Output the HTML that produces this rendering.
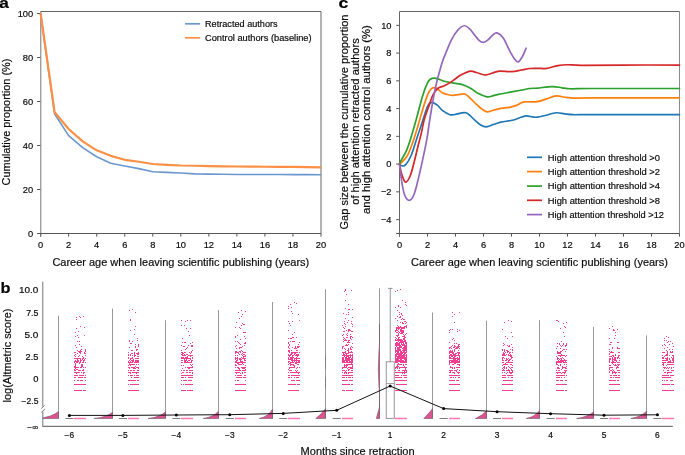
<!DOCTYPE html><html><head><meta charset="utf-8"><title>Figure</title><style>html,body{margin:0;padding:0;background:#fff;}svg{display:block;font-family:"Liberation Sans", sans-serif;will-change:transform;}text{stroke:#0a0a0a;stroke-width:0.18px;}</style></head><body>
<svg width="685" height="455" viewBox="0 0 685 455">
<text x="-0.8" y="8" font-size="15" text-anchor="start" fill="#000" font-weight="bold" textLength="9.6" lengthAdjust="spacingAndGlyphs">a</text>
<text x="338.6" y="8.2" font-size="15" text-anchor="start" fill="#000" font-weight="bold" textLength="9.8" lengthAdjust="spacingAndGlyphs">c</text>
<text x="0.5" y="292.7" font-size="15" text-anchor="start" fill="#000" font-weight="bold" textLength="10" lengthAdjust="spacingAndGlyphs">b</text>
<line x1="37" y1="233.5" x2="40.5" y2="233.5" stroke="#555" stroke-width="1"/>
<text x="33.2" y="236.8" font-size="9.3" text-anchor="end" fill="#0a0a0a">0</text>
<line x1="37" y1="189.5" x2="40.5" y2="189.5" stroke="#555" stroke-width="1"/>
<text x="33.2" y="192.8" font-size="9.3" text-anchor="end" fill="#0a0a0a">20</text>
<line x1="37" y1="145.5" x2="40.5" y2="145.5" stroke="#555" stroke-width="1"/>
<text x="33.2" y="148.8" font-size="9.3" text-anchor="end" fill="#0a0a0a">40</text>
<line x1="37" y1="101.5" x2="40.5" y2="101.5" stroke="#555" stroke-width="1"/>
<text x="33.2" y="104.8" font-size="9.3" text-anchor="end" fill="#0a0a0a">60</text>
<line x1="37" y1="57.5" x2="40.5" y2="57.5" stroke="#555" stroke-width="1"/>
<text x="33.2" y="60.8" font-size="9.3" text-anchor="end" fill="#0a0a0a">80</text>
<line x1="37" y1="13.5" x2="40.5" y2="13.5" stroke="#555" stroke-width="1"/>
<text x="33.2" y="16.8" font-size="9.3" text-anchor="end" fill="#0a0a0a">100</text>
<line x1="40.6" y1="233.5" x2="40.6" y2="236.6" stroke="#555" stroke-width="1"/>
<text x="40.6" y="248.2" font-size="9.3" text-anchor="middle" fill="#0a0a0a">0</text>
<line x1="68.64" y1="233.5" x2="68.64" y2="236.6" stroke="#555" stroke-width="1"/>
<text x="68.64" y="248.2" font-size="9.3" text-anchor="middle" fill="#0a0a0a">2</text>
<line x1="96.68" y1="233.5" x2="96.68" y2="236.6" stroke="#555" stroke-width="1"/>
<text x="96.68" y="248.2" font-size="9.3" text-anchor="middle" fill="#0a0a0a">4</text>
<line x1="124.72" y1="233.5" x2="124.72" y2="236.6" stroke="#555" stroke-width="1"/>
<text x="124.72" y="248.2" font-size="9.3" text-anchor="middle" fill="#0a0a0a">6</text>
<line x1="152.76" y1="233.5" x2="152.76" y2="236.6" stroke="#555" stroke-width="1"/>
<text x="152.76" y="248.2" font-size="9.3" text-anchor="middle" fill="#0a0a0a">8</text>
<line x1="180.8" y1="233.5" x2="180.8" y2="236.6" stroke="#555" stroke-width="1"/>
<text x="180.8" y="248.2" font-size="9.3" text-anchor="middle" fill="#0a0a0a">10</text>
<line x1="208.84" y1="233.5" x2="208.84" y2="236.6" stroke="#555" stroke-width="1"/>
<text x="208.84" y="248.2" font-size="9.3" text-anchor="middle" fill="#0a0a0a">12</text>
<line x1="236.88" y1="233.5" x2="236.88" y2="236.6" stroke="#555" stroke-width="1"/>
<text x="236.88" y="248.2" font-size="9.3" text-anchor="middle" fill="#0a0a0a">14</text>
<line x1="264.92" y1="233.5" x2="264.92" y2="236.6" stroke="#555" stroke-width="1"/>
<text x="264.92" y="248.2" font-size="9.3" text-anchor="middle" fill="#0a0a0a">16</text>
<line x1="292.96" y1="233.5" x2="292.96" y2="236.6" stroke="#555" stroke-width="1"/>
<text x="292.96" y="248.2" font-size="9.3" text-anchor="middle" fill="#0a0a0a">18</text>
<line x1="321" y1="233.5" x2="321" y2="236.6" stroke="#555" stroke-width="1"/>
<text x="321" y="248.2" font-size="9.3" text-anchor="middle" fill="#0a0a0a">20</text>
<line x1="40.5" y1="11.5" x2="321" y2="11.5" stroke="#666" stroke-width="1"/>
<line x1="321" y1="11.5" x2="321" y2="233.5" stroke="#666" stroke-width="1"/>
<line x1="40.8" y1="11.5" x2="40.8" y2="236.6" stroke="#777" stroke-width="1"/>
<line x1="37" y1="233.5" x2="321" y2="233.5" stroke="#555" stroke-width="1"/>
<polyline points="40.6,13.5 54.62,114.04 68.64,135.6 82.66,147.7 96.68,156.72 110.7,163.32 124.72,165.96 138.74,168.6 152.76,171.68 166.78,172.34 180.8,173 194.82,173.88 208.84,174.1 222.86,174.32 236.88,174.43 250.9,174.54 264.92,174.54 278.94,174.54 292.96,174.65 306.98,174.65 321,174.76" fill="none" stroke="#6b97cf" stroke-width="1.6" stroke-linejoin="round"/>
<polyline points="40.6,13.5 54.62,112.28 68.64,129 82.66,141.32 96.68,150.34 110.7,155.84 124.72,159.8 138.74,161.78 152.76,163.98 166.78,164.86 180.8,165.52 194.82,165.74 208.84,166.18 222.86,166.4 236.88,166.51 250.9,166.62 264.92,166.73 278.94,166.84 292.96,166.95 306.98,167.06 321,167.28" fill="none" stroke="#fa8f45" stroke-width="2.2" stroke-linejoin="round"/>
<line x1="185.1" y1="23.8" x2="200.1" y2="23.8" stroke="#6b97cf" stroke-width="1.7"/>
<line x1="185.1" y1="37.8" x2="200.1" y2="37.8" stroke="#fa8f45" stroke-width="1.7"/>
<text x="205" y="27.2" font-size="8.6" text-anchor="start" fill="#0a0a0a" textLength="72.6" lengthAdjust="spacingAndGlyphs">Retracted authors</text>
<text x="205" y="41.2" font-size="8.6" text-anchor="start" fill="#0a0a0a" textLength="106.6" lengthAdjust="spacingAndGlyphs">Control authors (baseline)</text>
<text x="180.8" y="265.8" font-size="11" text-anchor="middle" fill="#0a0a0a" textLength="256.8" lengthAdjust="spacingAndGlyphs">Career age when leaving scientific publishing (years)</text>
<text transform="translate(9.6,122) rotate(-90)" x="0" y="0" font-size="11" text-anchor="middle" fill="#0a0a0a" textLength="126.8" lengthAdjust="spacingAndGlyphs">Cumulative proportion (%)</text>
<line x1="396.2" y1="219.6" x2="399.5" y2="219.6" stroke="#555" stroke-width="1"/>
<text x="391.5" y="222.9" font-size="9.3" text-anchor="end" fill="#0a0a0a">−4</text>
<line x1="396.2" y1="191.85" x2="399.5" y2="191.85" stroke="#555" stroke-width="1"/>
<text x="391.5" y="195.15" font-size="9.3" text-anchor="end" fill="#0a0a0a">−2</text>
<line x1="396.2" y1="164.1" x2="399.5" y2="164.1" stroke="#555" stroke-width="1"/>
<text x="391.5" y="167.4" font-size="9.3" text-anchor="end" fill="#0a0a0a">0</text>
<line x1="396.2" y1="136.35" x2="399.5" y2="136.35" stroke="#555" stroke-width="1"/>
<text x="391.5" y="139.65" font-size="9.3" text-anchor="end" fill="#0a0a0a">2</text>
<line x1="396.2" y1="108.6" x2="399.5" y2="108.6" stroke="#555" stroke-width="1"/>
<text x="391.5" y="111.9" font-size="9.3" text-anchor="end" fill="#0a0a0a">4</text>
<line x1="396.2" y1="80.85" x2="399.5" y2="80.85" stroke="#555" stroke-width="1"/>
<text x="391.5" y="84.15" font-size="9.3" text-anchor="end" fill="#0a0a0a">6</text>
<line x1="396.2" y1="53.1" x2="399.5" y2="53.1" stroke="#555" stroke-width="1"/>
<text x="391.5" y="56.4" font-size="9.3" text-anchor="end" fill="#0a0a0a">8</text>
<line x1="396.2" y1="25.35" x2="399.5" y2="25.35" stroke="#555" stroke-width="1"/>
<text x="391.5" y="28.65" font-size="9.3" text-anchor="end" fill="#0a0a0a">10</text>
<line x1="399.5" y1="233.5" x2="399.5" y2="236.6" stroke="#555" stroke-width="1"/>
<text x="399.5" y="248.2" font-size="9.3" text-anchor="middle" fill="#0a0a0a">0</text>
<line x1="427.5" y1="233.5" x2="427.5" y2="236.6" stroke="#555" stroke-width="1"/>
<text x="427.5" y="248.2" font-size="9.3" text-anchor="middle" fill="#0a0a0a">2</text>
<line x1="455.5" y1="233.5" x2="455.5" y2="236.6" stroke="#555" stroke-width="1"/>
<text x="455.5" y="248.2" font-size="9.3" text-anchor="middle" fill="#0a0a0a">4</text>
<line x1="483.5" y1="233.5" x2="483.5" y2="236.6" stroke="#555" stroke-width="1"/>
<text x="483.5" y="248.2" font-size="9.3" text-anchor="middle" fill="#0a0a0a">6</text>
<line x1="511.5" y1="233.5" x2="511.5" y2="236.6" stroke="#555" stroke-width="1"/>
<text x="511.5" y="248.2" font-size="9.3" text-anchor="middle" fill="#0a0a0a">8</text>
<line x1="539.5" y1="233.5" x2="539.5" y2="236.6" stroke="#555" stroke-width="1"/>
<text x="539.5" y="248.2" font-size="9.3" text-anchor="middle" fill="#0a0a0a">10</text>
<line x1="567.5" y1="233.5" x2="567.5" y2="236.6" stroke="#555" stroke-width="1"/>
<text x="567.5" y="248.2" font-size="9.3" text-anchor="middle" fill="#0a0a0a">12</text>
<line x1="595.5" y1="233.5" x2="595.5" y2="236.6" stroke="#555" stroke-width="1"/>
<text x="595.5" y="248.2" font-size="9.3" text-anchor="middle" fill="#0a0a0a">14</text>
<line x1="623.5" y1="233.5" x2="623.5" y2="236.6" stroke="#555" stroke-width="1"/>
<text x="623.5" y="248.2" font-size="9.3" text-anchor="middle" fill="#0a0a0a">16</text>
<line x1="651.5" y1="233.5" x2="651.5" y2="236.6" stroke="#555" stroke-width="1"/>
<text x="651.5" y="248.2" font-size="9.3" text-anchor="middle" fill="#0a0a0a">18</text>
<line x1="679.5" y1="233.5" x2="679.5" y2="236.6" stroke="#555" stroke-width="1"/>
<text x="679.5" y="248.2" font-size="9.3" text-anchor="middle" fill="#0a0a0a">20</text>
<line x1="399.5" y1="11.5" x2="679.5" y2="11.5" stroke="#666" stroke-width="1"/>
<line x1="679.5" y1="11.5" x2="679.5" y2="233.5" stroke="#8a8a8a" stroke-width="1"/>
<line x1="399.5" y1="11.5" x2="399.5" y2="236.6" stroke="#666" stroke-width="1"/>
<line x1="396.2" y1="233.5" x2="679.5" y2="233.5" stroke="#555" stroke-width="1"/>
<g fill="none" stroke-width="1.7" stroke-linecap="round" stroke-linejoin="round">
<path d="M399.5 164.1 C399.87 164.38 400.74 165.63 401.74 165.76 C402.74 165.9 403.96 166.64 405.52 164.93 C407.08 163.22 409.25 159.87 411.12 155.5 C412.99 151.13 414.92 144.1 416.72 138.71 C418.52 133.32 420.1 128.53 421.9 123.17 C423.7 117.8 425.87 109.99 427.5 106.52 C429.13 103.05 430.07 102.59 431.7 102.36 C433.33 102.12 435.53 103.79 437.3 105.13 C439.07 106.47 440.24 108.81 442.34 110.4 C444.44 112 447.71 114.03 449.9 114.7 C452.09 115.38 452.84 114.75 455.5 114.43 C458.16 114.1 462.69 111.86 465.86 112.76 C469.03 113.66 472.07 117.8 474.54 119.84 C477.01 121.87 478.74 123.82 480.7 124.97 C482.66 126.13 484.2 126.85 486.3 126.78 C488.4 126.71 490.87 125.34 493.3 124.56 C495.73 123.77 497.9 122.73 500.86 122.06 C503.82 121.39 508.14 121.16 511.08 120.53 C514.02 119.91 516.07 119.08 518.5 118.31 C520.93 117.55 523.31 116.18 525.64 115.95 C527.97 115.72 530.54 116.72 532.5 116.92 C534.46 117.13 535.3 117.43 537.4 117.2 C539.5 116.97 541.97 116.28 545.1 115.54 C548.23 114.8 552.89 113.04 556.16 112.76 C559.43 112.48 561.88 113.55 564.7 113.87 C567.52 114.2 569.13 114.59 573.1 114.7 C577.07 114.82 580.1 114.59 588.5 114.57 C596.9 114.54 608.33 114.57 623.5 114.57 C638.67 114.57 670.17 114.57 679.5 114.57" stroke="#1f77b4"/>
<path d="M399.5 164.1 C399.73 163.91 399.59 164.38 400.9 162.99 C402.21 161.6 405.33 159.29 407.34 155.78 C409.35 152.26 411.07 147.22 412.94 141.9 C414.81 136.58 416.7 129.99 418.54 123.86 C420.38 117.73 422.39 110.22 424 105.13 C425.61 100.04 426.92 96.11 428.2 93.34 C429.48 90.56 430.63 89.43 431.7 88.48 C432.77 87.53 433.47 87.42 434.64 87.65 C435.81 87.88 437.42 89.04 438.7 89.87 C439.98 90.7 440.71 91.83 442.34 92.64 C443.97 93.45 446.7 94.29 448.5 94.72 C450.3 95.16 451.25 95.33 453.12 95.28 C454.99 95.23 457.65 94.63 459.7 94.45 C461.75 94.26 463.57 93.43 465.44 94.17 C467.31 94.91 469.1 97.22 470.9 98.89 C472.7 100.55 474.35 102.43 476.22 104.16 C478.09 105.89 480.3 108.02 482.1 109.29 C483.9 110.57 485.13 111.63 487 111.79 C488.87 111.95 490.99 110.82 493.3 110.26 C495.61 109.71 498.15 108.95 500.86 108.46 C503.57 107.98 506.83 107.91 509.54 107.35 C512.25 106.8 514.67 106.03 517.1 105.13 C519.53 104.23 520.72 102.52 524.1 101.94 C527.48 101.36 533.67 102.17 537.4 101.66 C541.13 101.15 543.37 99.86 546.5 98.89 C549.63 97.92 553.13 96.11 556.16 95.83 C559.19 95.56 561.64 96.83 564.7 97.22 C567.76 97.62 570.53 98.1 574.5 98.19 C578.47 98.29 580.33 97.85 588.5 97.78 C596.67 97.71 608.33 97.78 623.5 97.78 C638.67 97.78 670.17 97.78 679.5 97.78" stroke="#ff7f0e"/>
<path d="M399.5 164.1 C399.71 163.59 399.62 163.24 400.76 161.05 C401.9 158.85 404.63 154.92 406.36 150.92 C408.09 146.92 409.39 142.59 411.12 137.04 C412.85 131.49 414.78 124.56 416.72 117.62 C418.66 110.68 420.94 101.2 422.74 95.42 C424.54 89.64 426.24 85.64 427.5 82.93 C428.76 80.23 429.11 79.99 430.3 79.18 C431.49 78.38 433.01 77.98 434.64 78.07 C436.27 78.17 438.3 79.16 440.1 79.74 C441.9 80.32 443.32 81.01 445.42 81.54 C447.52 82.08 450.13 82.49 452.7 82.93 C455.27 83.37 457.93 83.32 460.82 84.18 C463.71 85.04 467.21 86.54 470.06 88.06 C472.91 89.59 475.1 91.88 477.9 93.34 C480.7 94.79 484.29 96.41 486.86 96.81 C489.43 97.2 491.25 96.14 493.3 95.7 C495.35 95.26 496.15 94.79 499.18 94.17 C502.21 93.55 507.81 92.62 511.5 91.95 C515.19 91.28 518.22 90.72 521.3 90.15 C524.38 89.57 527.3 88.83 529.98 88.48 C532.66 88.13 533.71 88.39 537.4 88.06 C541.09 87.74 548.02 86.58 552.1 86.54 C556.18 86.49 558.87 87.42 561.9 87.79 C564.93 88.16 565.87 88.64 570.3 88.76 C574.73 88.87 579.63 88.53 588.5 88.48 C597.37 88.43 608.33 88.48 623.5 88.48 C638.67 88.48 670.17 88.48 679.5 88.48" stroke="#2ca02c"/>
<path d="M399.5 164.1 C399.87 165.79 400.74 171.22 401.74 174.23 C402.74 177.23 404.12 181.84 405.52 182.14 C406.92 182.44 408.74 179.22 410.14 176.03 C411.54 172.84 412.68 167.66 413.92 162.99 C415.16 158.32 416.32 152.98 417.56 148 C418.8 143.03 420.24 137.83 421.34 133.16 C422.44 128.49 422.81 124.69 424.14 119.98 C425.47 115.26 427.83 109.06 429.32 104.85 C430.81 100.64 431.7 97.45 433.1 94.72 C434.5 92 435.85 89.98 437.72 88.48 C439.59 86.98 442.25 86.68 444.3 85.71 C446.35 84.73 448.17 83.81 450.04 82.65 C451.91 81.5 453.7 80.04 455.5 78.77 C457.3 77.5 458.39 76.29 460.82 75.02 C463.25 73.75 467.45 71.55 470.06 71.14 C472.67 70.72 474.07 71.88 476.5 72.53 C478.93 73.17 482.05 74.91 484.62 75.02 C487.19 75.14 489.47 73.87 491.9 73.22 C494.33 72.57 495.91 71.41 499.18 71.14 C502.45 70.86 507.81 71.74 511.5 71.55 C515.19 71.37 518.22 70.54 521.3 70.03 C524.38 69.52 527.18 68.78 529.98 68.5 C532.78 68.22 535.35 68.39 538.1 68.36 C540.85 68.34 543.23 68.82 546.5 68.36 C549.77 67.9 554.2 66.19 557.7 65.59 C561.2 64.99 563.53 64.8 567.5 64.75 C571.47 64.71 572.17 65.26 581.5 65.31 C590.83 65.36 607.17 65.08 623.5 65.03 C639.83 64.99 670.17 65.03 679.5 65.03" stroke="#d62728"/>
<path d="M399.5 164.1 C399.87 167.04 400.9 176.61 401.74 181.72 C402.58 186.83 403.3 191.64 404.54 194.76 C405.78 197.89 407.6 200.45 409.16 200.45 C410.72 200.45 412.36 198.53 413.92 194.76 C415.48 190.99 417 184.06 418.54 177.84 C420.08 171.62 421.76 163.96 423.16 157.44 C424.56 150.92 425.84 144.95 426.94 138.71 C428.04 132.47 428.41 128.07 429.74 119.98 C431.07 111.88 432.96 99.4 434.92 90.15 C436.88 80.9 439.56 70.95 441.5 64.48 C443.44 58 444.88 55.41 446.54 51.3 C448.2 47.18 449.53 43.34 451.44 39.78 C453.35 36.22 455.87 32.26 458.02 29.93 C460.17 27.59 462.41 25.97 464.32 25.77 C466.23 25.56 467.82 27.18 469.5 28.68 C471.18 30.18 472.77 32.8 474.4 34.78 C476.03 36.77 477.81 39.34 479.3 40.61 C480.79 41.88 481.96 42.49 483.36 42.42 C484.76 42.35 486.16 41.42 487.7 40.2 C489.24 38.97 491.06 36.29 492.6 35.06 C494.14 33.84 495.19 32.38 496.94 32.84 C498.69 33.3 500.91 34.69 503.1 37.84 C505.29 40.98 508.23 48.24 510.1 51.71 C511.97 55.18 512.99 56.94 514.3 58.65 C515.61 60.36 516.66 62.21 517.94 61.98 C519.22 61.75 520.65 59.55 522 57.26 C523.35 54.97 525.38 49.75 526.06 48.24" stroke="#9467bd"/>
</g>
<line x1="527" y1="157.3" x2="542" y2="157.3" stroke="#1f77b4" stroke-width="1.7"/>
<text x="547.8" y="160.5" font-size="8.6" text-anchor="start" fill="#0a0a0a" textLength="112.2" lengthAdjust="spacingAndGlyphs">High attention threshold &gt;0</text>
<line x1="527" y1="171.6" x2="542" y2="171.6" stroke="#ff7f0e" stroke-width="1.7"/>
<text x="547.8" y="174.8" font-size="8.6" text-anchor="start" fill="#0a0a0a" textLength="112.2" lengthAdjust="spacingAndGlyphs">High attention threshold &gt;2</text>
<line x1="527" y1="186.1" x2="542" y2="186.1" stroke="#2ca02c" stroke-width="1.7"/>
<text x="547.8" y="189.3" font-size="8.6" text-anchor="start" fill="#0a0a0a" textLength="112.2" lengthAdjust="spacingAndGlyphs">High attention threshold &gt;4</text>
<line x1="527" y1="200.3" x2="542" y2="200.3" stroke="#d62728" stroke-width="1.7"/>
<text x="547.8" y="203.5" font-size="8.6" text-anchor="start" fill="#0a0a0a" textLength="112.2" lengthAdjust="spacingAndGlyphs">High attention threshold &gt;8</text>
<line x1="527" y1="214.6" x2="542" y2="214.6" stroke="#9467bd" stroke-width="1.7"/>
<text x="547.8" y="217.8" font-size="8.6" text-anchor="start" fill="#0a0a0a" textLength="116.2" lengthAdjust="spacingAndGlyphs">High attention threshold &gt;12</text>
<text x="539.5" y="265.8" font-size="11" text-anchor="middle" fill="#0a0a0a" textLength="256.8" lengthAdjust="spacingAndGlyphs">Career age when leaving scientific publishing (years)</text>
<text transform="translate(348.3,122.0) rotate(-90)" x="0" y="0" font-size="11" text-anchor="middle" fill="#0a0a0a" textLength="215" lengthAdjust="spacingAndGlyphs">Gap size between the cumulative proportion</text>
<text transform="translate(359.2,121.5) rotate(-90)" x="0" y="0" font-size="11" text-anchor="middle" fill="#0a0a0a" textLength="166.6" lengthAdjust="spacingAndGlyphs">of high attention retracted authors</text>
<text transform="translate(369.8,119.6) rotate(-90)" x="0" y="0" font-size="11" text-anchor="middle" fill="#0a0a0a" textLength="189" lengthAdjust="spacingAndGlyphs">and high attention control authors (%)</text>
<text x="38.4" y="293.4" font-size="8.4" text-anchor="end" fill="#0a0a0a" textLength="19.4" lengthAdjust="spacingAndGlyphs">10.0</text>
<text x="38.4" y="315.5" font-size="8.4" text-anchor="end" fill="#0a0a0a" textLength="12.2" lengthAdjust="spacingAndGlyphs">7.5</text>
<text x="38.4" y="337.6" font-size="8.4" text-anchor="end" fill="#0a0a0a" textLength="13.9" lengthAdjust="spacingAndGlyphs">5.0</text>
<text x="38.4" y="359.7" font-size="8.4" text-anchor="end" fill="#0a0a0a" textLength="12.8" lengthAdjust="spacingAndGlyphs">2.5</text>
<text x="38.4" y="381.8" font-size="8.4" text-anchor="end" fill="#0a0a0a" textLength="5.2" lengthAdjust="spacingAndGlyphs">0</text>
<text x="38.4" y="403.9" font-size="8.4" text-anchor="end" fill="#0a0a0a" textLength="16.8" lengthAdjust="spacingAndGlyphs">−2.5</text>
<text x="38.2" y="430.2" font-size="8.4" text-anchor="end" fill="#0a0a0a">−∞</text>
<text transform="translate(10.8,355.5) rotate(-90)" x="0" y="0" font-size="11" text-anchor="middle" fill="#0a0a0a" textLength="93.8" lengthAdjust="spacingAndGlyphs">log(Altmetric score)</text>
<text x="357.6" y="454.9" font-size="11" text-anchor="middle" fill="#0a0a0a" textLength="114" lengthAdjust="spacingAndGlyphs">Months since retraction</text>
<text x="69.4" y="437.9" font-size="8.4" text-anchor="middle" fill="#0a0a0a">−6</text>
<text x="122.86" y="437.9" font-size="8.4" text-anchor="middle" fill="#0a0a0a">−5</text>
<text x="176.32" y="437.9" font-size="8.4" text-anchor="middle" fill="#0a0a0a">−4</text>
<text x="229.78" y="437.9" font-size="8.4" text-anchor="middle" fill="#0a0a0a">−3</text>
<text x="283.24" y="437.9" font-size="8.4" text-anchor="middle" fill="#0a0a0a">−2</text>
<text x="336.7" y="437.9" font-size="8.4" text-anchor="middle" fill="#0a0a0a">−1</text>
<text x="390.16" y="437.9" font-size="8.4" text-anchor="middle" fill="#0a0a0a">1</text>
<text x="443.62" y="437.9" font-size="8.4" text-anchor="middle" fill="#0a0a0a">2</text>
<text x="497.08" y="437.9" font-size="8.4" text-anchor="middle" fill="#0a0a0a">3</text>
<text x="550.54" y="437.9" font-size="8.4" text-anchor="middle" fill="#0a0a0a">4</text>
<text x="604" y="437.9" font-size="8.4" text-anchor="middle" fill="#0a0a0a">5</text>
<text x="657.46" y="437.9" font-size="8.4" text-anchor="middle" fill="#0a0a0a">6</text>
<g>
<line x1="58.5" y1="315.8" x2="58.5" y2="418.5" stroke="#9c989a" stroke-width="1"/>
<path d="M58.5 418.5 L58.5 411.5 Q52.2 417.1 37.5 418.5 Z" fill="#dc5292" stroke="#6e5560" stroke-width="0.6" stroke-linejoin="round"/>
<line x1="112.5" y1="308.6" x2="112.5" y2="418.5" stroke="#9c989a" stroke-width="1"/>
<path d="M112.5 418.5 L112.5 412.2 Q106.92 417.24 93.9 418.5 Z" fill="#dc5292" stroke="#6e5560" stroke-width="0.6" stroke-linejoin="round"/>
<line x1="165.5" y1="320.2" x2="165.5" y2="418.5" stroke="#9c989a" stroke-width="1"/>
<path d="M165.5 418.5 L165.5 411.8 Q160.28 417.16 148.1 418.5 Z" fill="#dc5292" stroke="#6e5560" stroke-width="0.6" stroke-linejoin="round"/>
<line x1="218.5" y1="310.1" x2="218.5" y2="418.5" stroke="#9c989a" stroke-width="1"/>
<path d="M218.5 418.5 L218.5 411.3 Q213.6 416.92 203.2 418.5 Z" fill="#dc5292" stroke="#6e5560" stroke-width="0.6" stroke-linejoin="round"/>
<line x1="272.5" y1="302" x2="272.5" y2="418.5" stroke="#9c989a" stroke-width="1"/>
<path d="M272.5 418.5 L272.5 409.2 Q268.54 416.45 259.3 418.5 Z" fill="#dc5292" stroke="#6e5560" stroke-width="0.6" stroke-linejoin="round"/>
<line x1="325.5" y1="289.2" x2="325.5" y2="418.5" stroke="#9c989a" stroke-width="1"/>
<path d="M325.5 418.5 L325.5 408.7 Q321.13 414.58 315.8 418.5 Z" fill="#dc5292" stroke="#6e5560" stroke-width="0.6" stroke-linejoin="round"/>
<line x1="379.5" y1="288.4" x2="379.5" y2="418.5" stroke="#9c989a" stroke-width="1"/>
<path d="M379.5 418.5 L379.5 406.9 Q377.9 412.7 376.3 418.5 Z" fill="#dc5292" stroke="#6e5560" stroke-width="0.6" stroke-linejoin="round"/>
<line x1="432.5" y1="312.5" x2="432.5" y2="418.5" stroke="#9c989a" stroke-width="1"/>
<path d="M432.5 418.5 L432.5 408.7 Q428.15 414.09 423.8 418.5 Z" fill="#dc5292" stroke="#6e5560" stroke-width="0.6" stroke-linejoin="round"/>
<line x1="486.5" y1="320.7" x2="486.5" y2="418.5" stroke="#9c989a" stroke-width="1"/>
<path d="M486.5 418.5 L486.5 410.9 Q481.84 415.76 475.4 418.5 Z" fill="#dc5292" stroke="#6e5560" stroke-width="0.6" stroke-linejoin="round"/>
<line x1="539.5" y1="320.2" x2="539.5" y2="418.5" stroke="#9c989a" stroke-width="1"/>
<path d="M539.5 418.5 L539.5 410.8 Q535.11 416.65 526.2 418.5 Z" fill="#dc5292" stroke="#6e5560" stroke-width="0.6" stroke-linejoin="round"/>
<line x1="593.5" y1="326.8" x2="593.5" y2="418.5" stroke="#9c989a" stroke-width="1"/>
<path d="M593.5 418.5 L593.5 411.9 Q587.96 416.78 576.7 418.5 Z" fill="#dc5292" stroke="#6e5560" stroke-width="0.6" stroke-linejoin="round"/>
<line x1="646.5" y1="335.4" x2="646.5" y2="418.5" stroke="#9c989a" stroke-width="1"/>
<path d="M646.5 418.5 L646.5 411.3 Q641.35 416.63 630.9 418.5 Z" fill="#dc5292" stroke="#6e5560" stroke-width="0.6" stroke-linejoin="round"/>
</g>
<rect x="30" y="405" width="12.5" height="16" fill="#fff"/>
<path d="M379.5 342 Q376.9 368 379.5 396 Z" fill="#e0559a" stroke="#7a5a68" stroke-width="0.5"/>
<line x1="379.5" y1="324" x2="379.5" y2="342" stroke="#7a6670" stroke-width="1"/>
<line x1="379.5" y1="396" x2="379.5" y2="407" stroke="#7a6670" stroke-width="1"/>
<line x1="325.5" y1="355.8" x2="325.5" y2="369" stroke="#8a7a84" stroke-width="1"/>
<line x1="325.5" y1="376.8" x2="325.5" y2="388.7" stroke="#8a7a84" stroke-width="1"/>
<line x1="65.4" y1="418.5" x2="73.4" y2="418.5" stroke="#7a7a7a" stroke-width="1"/>
<line x1="118.86" y1="418.5" x2="126.86" y2="418.5" stroke="#7a7a7a" stroke-width="1"/>
<line x1="172.32" y1="418.5" x2="180.32" y2="418.5" stroke="#7a7a7a" stroke-width="1"/>
<line x1="225.78" y1="418.5" x2="233.78" y2="418.5" stroke="#7a7a7a" stroke-width="1"/>
<line x1="279.24" y1="418.5" x2="287.24" y2="418.5" stroke="#7a7a7a" stroke-width="1"/>
<line x1="332.7" y1="418.5" x2="340.7" y2="418.5" stroke="#7a7a7a" stroke-width="1"/>
<line x1="439.62" y1="418.5" x2="447.62" y2="418.5" stroke="#7a7a7a" stroke-width="1"/>
<line x1="493.08" y1="418.5" x2="501.08" y2="418.5" stroke="#7a7a7a" stroke-width="1"/>
<line x1="546.54" y1="418.5" x2="554.54" y2="418.5" stroke="#7a7a7a" stroke-width="1"/>
<line x1="600" y1="418.5" x2="608" y2="418.5" stroke="#7a7a7a" stroke-width="1"/>
<line x1="653.46" y1="418.5" x2="661.46" y2="418.5" stroke="#7a7a7a" stroke-width="1"/>
<rect x="386.26" y="361.8" width="8" height="56.6" fill="#fff" stroke="#8a8a8a" stroke-width="0.9"/>
<line x1="386.26" y1="383.5" x2="394.26" y2="383.5" stroke="#999" stroke-width="0.9"/>
<line x1="390.26" y1="288.4" x2="390.26" y2="361.8" stroke="#8a8a8a" stroke-width="0.9"/>
<line x1="388.06" y1="288.4" x2="392.46" y2="288.4" stroke="#8a8a8a" stroke-width="0.9"/>
<path d="M83 316h1v1h-1zM76 317h1v1h-1zM76 319h1v1h-1zM80 326h1v1h-1zM84 327h1v1h-1zM76 328h1v1h-1zM78 331h1v1h-1zM75 332h1v1h-1zM77 335h1v1h-1zM84 335h1v1h-1zM75 336h1v1h-1zM78 337h1v1h-1zM77 341h1v1h-1zM79 341h1v1h-1zM79 344h1v1h-1zM75 345h1v1h-1zM81 346h1v1h-1zM76 347h1v1h-1zM81 349h1v1h-1zM85 349h1v1h-1zM77 350h1v1h-1zM80 350h1v1h-1zM85 350h1v1h-1zM78 351h4v1h-4zM85 351h1v1h-1zM74 352h2v1h-2zM79 352h2v1h-2zM84 352h1v1h-1zM77 353h1v1h-1zM80 353h1v1h-1zM84 353h2v1h-2zM75 354h1v1h-1zM74 355h1v1h-1zM79 355h1v1h-1zM85 355h1v1h-1zM75 356h1v1h-1zM78 356h1v1h-1zM82 356h1v1h-1zM83 357h1v1h-1zM74 358h7v1h-7zM82 358h2v1h-2zM85 358h1v1h-1zM77 359h1v1h-1zM80 359h1v1h-1zM82 359h1v1h-1zM84 359h1v1h-1zM75 360h1v1h-1zM77 360h2v1h-2zM80 360h2v1h-2zM83 360h2v1h-2zM74 361h5v1h-5zM80 361h1v1h-1zM83 361h1v1h-1zM74 362h1v1h-1zM76 362h2v1h-2zM79 362h2v1h-2zM82 362h2v1h-2zM85 362h1v1h-1zM75 363h1v1h-1zM79 363h1v1h-1zM75 364h1v1h-1zM81 364h2v1h-2zM75 365h1v1h-1zM81 365h2v1h-2zM74 366h2v1h-2zM81 366h2v1h-2zM74 367h5v1h-5zM80 367h2v1h-2zM83 367h1v1h-1zM85 367h1v1h-1zM75 368h1v1h-1zM74 369h1v1h-1zM76 369h2v1h-2zM83 369h1v1h-1zM74 370h2v1h-2zM78 370h3v1h-3zM82 370h2v1h-2zM74 372h6v1h-6zM81 372h1v1h-1zM83 372h2v1h-2zM76 373h1v1h-1zM83 373h1v1h-1zM74 375h4v1h-4zM79 375h5v1h-5zM85 375h1v1h-1zM74 377h2v1h-2zM78 377h5v1h-5zM84 377h2v1h-2zM74 380h1v1h-1zM77 380h2v1h-2zM80 380h3v1h-3zM85 380h1v1h-1zM74 384h12v1h-12zM74 390h8v1h-8zM83 390h3v1h-3zM80 317h1v1h-1zM79 316h1v1h-1zM135 312h1v1h-1zM130 319h1v1h-1zM130 320h1v1h-1zM135 326h1v1h-1zM134 329h1v1h-1zM130 330h1v1h-1zM134 334h1v1h-1zM137 338h1v1h-1zM129 340h1v1h-1zM137 340h1v1h-1zM129 341h1v1h-1zM132 341h1v1h-1zM130 343h2v1h-2zM135 344h1v1h-1zM138 344h1v1h-1zM138 345h1v1h-1zM135 346h1v1h-1zM138 346h1v1h-1zM129 347h1v1h-1zM135 347h1v1h-1zM136 349h2v1h-2zM131 350h2v1h-2zM136 350h1v1h-1zM128 352h1v1h-1zM134 352h1v1h-1zM138 352h1v1h-1zM131 353h2v1h-2zM134 353h1v1h-1zM136 353h3v1h-3zM128 354h1v1h-1zM130 354h1v1h-1zM134 354h1v1h-1zM137 354h2v1h-2zM128 355h1v1h-1zM130 355h1v1h-1zM132 355h1v1h-1zM134 355h2v1h-2zM134 356h1v1h-1zM137 356h2v1h-2zM128 357h1v1h-1zM132 357h1v1h-1zM128 358h1v1h-1zM130 358h3v1h-3zM135 358h4v1h-4zM130 359h1v1h-1zM133 359h1v1h-1zM129 360h1v1h-1zM131 360h3v1h-3zM135 360h4v1h-4zM128 361h1v1h-1zM130 361h1v1h-1zM132 361h2v1h-2zM135 361h4v1h-4zM128 362h5v1h-5zM134 362h5v1h-5zM129 363h1v1h-1zM129 364h6v1h-6zM136 364h1v1h-1zM138 364h1v1h-1zM128 365h1v1h-1zM130 365h1v1h-1zM135 366h1v1h-1zM128 367h2v1h-2zM131 367h4v1h-4zM136 367h3v1h-3zM129 368h1v1h-1zM133 368h3v1h-3zM138 368h1v1h-1zM128 370h1v1h-1zM130 370h2v1h-2zM133 370h2v1h-2zM137 370h2v1h-2zM128 372h3v1h-3zM132 372h7v1h-7zM130 373h1v1h-1zM136 373h1v1h-1zM128 375h1v1h-1zM130 375h3v1h-3zM134 375h1v1h-1zM136 375h3v1h-3zM131 377h1v1h-1zM134 377h5v1h-5zM128 380h8v1h-8zM137 380h2v1h-2zM128 384h1v1h-1zM130 384h9v1h-9zM128 390h11v1h-11zM132 309h1v1h-1zM129 310h1v1h-1zM190 320h1v1h-1zM185 321h1v1h-1zM181 325h1v1h-1zM184 325h1v1h-1zM186 328h1v1h-1zM190 328h1v1h-1zM188 331h1v1h-1zM189 335h1v1h-1zM182 338h1v1h-1zM182 342h1v1h-1zM184 342h2v1h-2zM192 342h1v1h-1zM190 343h1v1h-1zM181 345h1v1h-1zM188 345h1v1h-1zM191 345h2v1h-2zM183 346h2v1h-2zM191 346h2v1h-2zM187 347h1v1h-1zM186 348h1v1h-1zM185 349h1v1h-1zM181 350h1v1h-1zM192 350h1v1h-1zM191 351h1v1h-1zM181 352h2v1h-2zM184 352h2v1h-2zM189 352h1v1h-1zM191 352h1v1h-1zM182 353h2v1h-2zM190 353h1v1h-1zM181 354h2v1h-2zM184 354h1v1h-1zM186 354h2v1h-2zM182 355h4v1h-4zM188 355h5v1h-5zM187 356h1v1h-1zM190 356h1v1h-1zM181 357h3v1h-3zM185 357h3v1h-3zM192 357h1v1h-1zM181 358h10v1h-10zM192 358h1v1h-1zM184 359h1v1h-1zM186 359h1v1h-1zM190 359h1v1h-1zM181 360h2v1h-2zM184 360h3v1h-3zM188 360h2v1h-2zM191 360h2v1h-2zM184 361h2v1h-2zM187 361h1v1h-1zM191 361h1v1h-1zM181 362h2v1h-2zM184 362h8v1h-8zM190 364h1v1h-1zM192 364h1v1h-1zM181 365h1v1h-1zM183 365h1v1h-1zM191 365h1v1h-1zM192 366h1v1h-1zM185 367h1v1h-1zM187 367h6v1h-6zM182 368h1v1h-1zM188 368h2v1h-2zM181 370h1v1h-1zM183 370h2v1h-2zM186 370h2v1h-2zM189 370h4v1h-4zM182 372h2v1h-2zM186 372h2v1h-2zM189 372h2v1h-2zM192 372h1v1h-1zM181 373h1v1h-1zM192 373h1v1h-1zM181 375h12v1h-12zM181 377h3v1h-3zM185 377h1v1h-1zM188 377h5v1h-5zM181 380h1v1h-1zM183 380h4v1h-4zM188 380h4v1h-4zM181 384h1v1h-1zM183 384h1v1h-1zM185 384h8v1h-8zM181 390h5v1h-5zM187 390h6v1h-6zM181 320h1v1h-1zM187 320h1v1h-1zM245 311h1v1h-1zM242 314h1v1h-1zM241 316h1v1h-1zM239 318h1v1h-1zM236 322h1v1h-1zM242 323h1v1h-1zM243 324h2v1h-2zM241 325h1v1h-1zM235 327h1v1h-1zM239 327h1v1h-1zM240 328h1v1h-1zM243 332h3v1h-3zM237 335h1v1h-1zM235 336h1v1h-1zM244 336h1v1h-1zM235 337h1v1h-1zM245 338h1v1h-1zM240 339h1v1h-1zM235 341h1v1h-1zM237 341h1v1h-1zM238 342h1v1h-1zM245 342h1v1h-1zM239 343h1v1h-1zM244 343h2v1h-2zM240 344h1v1h-1zM236 345h1v1h-1zM244 345h1v1h-1zM235 346h1v1h-1zM242 346h1v1h-1zM239 347h3v1h-3zM236 348h1v1h-1zM239 348h1v1h-1zM241 350h1v1h-1zM235 351h2v1h-2zM239 351h2v1h-2zM242 351h1v1h-1zM235 352h4v1h-4zM240 352h1v1h-1zM243 352h3v1h-3zM235 353h1v1h-1zM238 353h1v1h-1zM242 353h1v1h-1zM239 354h1v1h-1zM241 354h1v1h-1zM243 354h2v1h-2zM235 355h1v1h-1zM237 355h1v1h-1zM242 355h1v1h-1zM245 355h1v1h-1zM243 356h3v1h-3zM235 357h1v1h-1zM237 357h1v1h-1zM241 357h1v1h-1zM243 357h1v1h-1zM235 358h3v1h-3zM239 358h2v1h-2zM242 358h4v1h-4zM235 359h1v1h-1zM237 359h1v1h-1zM239 359h3v1h-3zM244 359h1v1h-1zM236 360h2v1h-2zM240 360h1v1h-1zM244 360h2v1h-2zM235 361h2v1h-2zM240 361h3v1h-3zM235 362h11v1h-11zM237 363h2v1h-2zM242 363h1v1h-1zM235 364h1v1h-1zM238 364h4v1h-4zM243 364h1v1h-1zM235 365h2v1h-2zM245 365h1v1h-1zM235 367h1v1h-1zM237 367h2v1h-2zM241 367h5v1h-5zM238 368h2v1h-2zM242 368h3v1h-3zM239 369h1v1h-1zM245 369h1v1h-1zM235 370h6v1h-6zM242 370h4v1h-4zM235 372h5v1h-5zM242 372h1v1h-1zM244 372h2v1h-2zM236 373h1v1h-1zM240 373h1v1h-1zM242 373h1v1h-1zM235 375h1v1h-1zM237 375h5v1h-5zM244 375h2v1h-2zM236 377h6v1h-6zM243 377h3v1h-3zM235 380h1v1h-1zM237 380h2v1h-2zM245 380h1v1h-1zM235 384h11v1h-11zM235 390h11v1h-11zM238 312h1v1h-1zM241 310h1v1h-1zM296 303h1v1h-1zM288 306h1v1h-1zM291 307h1v1h-1zM288 308h1v1h-1zM291 311h1v1h-1zM292 313h1v1h-1zM298 314h1v1h-1zM299 320h1v1h-1zM288 321h1v1h-1zM292 321h1v1h-1zM289 323h1v1h-1zM290 325h1v1h-1zM288 330h1v1h-1zM294 332h1v1h-1zM292 334h1v1h-1zM292 337h2v1h-2zM296 337h1v1h-1zM288 338h1v1h-1zM290 338h2v1h-2zM290 341h1v1h-1zM292 341h3v1h-3zM288 342h1v1h-1zM299 342h1v1h-1zM288 343h1v1h-1zM289 344h1v1h-1zM298 344h1v1h-1zM289 345h1v1h-1zM288 346h1v1h-1zM295 346h1v1h-1zM297 346h3v1h-3zM288 347h1v1h-1zM292 347h1v1h-1zM295 347h1v1h-1zM297 347h2v1h-2zM289 348h1v1h-1zM294 348h3v1h-3zM288 350h2v1h-2zM291 350h1v1h-1zM296 350h2v1h-2zM288 351h2v1h-2zM289 352h1v1h-1zM291 352h7v1h-7zM299 352h1v1h-1zM291 353h2v1h-2zM294 353h2v1h-2zM288 354h1v1h-1zM290 354h2v1h-2zM294 354h1v1h-1zM296 354h3v1h-3zM288 355h3v1h-3zM292 355h2v1h-2zM295 355h4v1h-4zM289 356h1v1h-1zM292 356h1v1h-1zM297 356h1v1h-1zM288 357h1v1h-1zM290 357h4v1h-4zM296 357h1v1h-1zM288 358h1v1h-1zM290 358h3v1h-3zM294 358h6v1h-6zM288 359h5v1h-5zM294 359h1v1h-1zM296 359h1v1h-1zM291 360h9v1h-9zM288 361h2v1h-2zM292 361h1v1h-1zM294 361h1v1h-1zM296 361h1v1h-1zM298 361h2v1h-2zM288 362h1v1h-1zM290 362h4v1h-4zM295 362h5v1h-5zM289 363h2v1h-2zM295 363h2v1h-2zM288 364h1v1h-1zM290 364h4v1h-4zM297 364h2v1h-2zM290 365h1v1h-1zM293 365h2v1h-2zM294 366h1v1h-1zM289 367h6v1h-6zM297 367h1v1h-1zM299 367h1v1h-1zM289 368h1v1h-1zM296 368h1v1h-1zM288 369h1v1h-1zM289 370h3v1h-3zM295 370h1v1h-1zM297 370h1v1h-1zM296 371h1v1h-1zM288 372h1v1h-1zM290 372h10v1h-10zM298 373h1v1h-1zM288 375h2v1h-2zM291 375h9v1h-9zM288 377h2v1h-2zM291 377h1v1h-1zM294 377h1v1h-1zM296 377h3v1h-3zM291 380h4v1h-4zM296 380h4v1h-4zM288 384h8v1h-8zM297 384h3v1h-3zM288 390h11v1h-11zM290 304h1v1h-1zM294 302h1v1h-1zM345 290h1v1h-1zM351 290h1v1h-1zM346 294h1v1h-1zM345 300h1v1h-1zM348 304h1v1h-1zM345 308h1v1h-1zM348 309h2v1h-2zM352 309h1v1h-1zM348 312h1v1h-1zM343 313h1v1h-1zM346 314h1v1h-1zM348 314h1v1h-1zM352 317h1v1h-1zM345 318h1v1h-1zM348 320h1v1h-1zM344 321h1v1h-1zM351 321h1v1h-1zM347 322h1v1h-1zM344 323h1v1h-1zM351 323h1v1h-1zM345 324h1v1h-1zM352 324h1v1h-1zM342 325h1v1h-1zM345 326h1v1h-1zM352 326h1v1h-1zM343 327h1v1h-1zM344 328h1v1h-1zM348 329h2v1h-2zM346 330h1v1h-1zM348 330h3v1h-3zM343 331h2v1h-2zM348 331h1v1h-1zM351 331h2v1h-2zM347 333h1v1h-1zM343 334h1v1h-1zM346 334h1v1h-1zM350 334h1v1h-1zM342 335h1v1h-1zM347 335h1v1h-1zM350 336h2v1h-2zM343 337h1v1h-1zM346 337h2v1h-2zM350 337h1v1h-1zM352 337h1v1h-1zM344 338h1v1h-1zM350 338h1v1h-1zM343 339h1v1h-1zM345 339h1v1h-1zM351 339h1v1h-1zM344 340h3v1h-3zM348 340h2v1h-2zM343 341h1v1h-1zM348 341h1v1h-1zM347 342h3v1h-3zM352 343h1v1h-1zM346 344h1v1h-1zM348 344h1v1h-1zM345 345h3v1h-3zM342 346h2v1h-2zM351 346h1v1h-1zM342 347h1v1h-1zM350 347h1v1h-1zM352 347h1v1h-1zM342 348h1v1h-1zM344 348h1v1h-1zM348 348h1v1h-1zM350 348h1v1h-1zM345 349h1v1h-1zM348 349h1v1h-1zM350 349h2v1h-2zM347 350h2v1h-2zM345 351h1v1h-1zM348 351h1v1h-1zM351 351h1v1h-1zM342 352h4v1h-4zM348 352h5v1h-5zM343 353h1v1h-1zM345 353h4v1h-4zM343 354h2v1h-2zM346 354h1v1h-1zM350 354h1v1h-1zM352 354h1v1h-1zM342 355h11v1h-11zM344 356h1v1h-1zM346 356h3v1h-3zM350 356h1v1h-1zM352 356h1v1h-1zM342 357h2v1h-2zM345 357h2v1h-2zM348 357h3v1h-3zM352 357h1v1h-1zM342 358h2v1h-2zM345 358h5v1h-5zM351 358h2v1h-2zM342 359h2v1h-2zM345 359h8v1h-8zM342 360h8v1h-8zM351 360h2v1h-2zM342 361h3v1h-3zM346 361h2v1h-2zM349 361h4v1h-4zM342 362h11v1h-11zM351 363h1v1h-1zM344 364h1v1h-1zM346 364h7v1h-7zM344 365h4v1h-4zM352 365h1v1h-1zM344 366h1v1h-1zM346 366h1v1h-1zM352 366h1v1h-1zM342 367h5v1h-5zM348 367h5v1h-5zM342 368h1v1h-1zM347 368h1v1h-1zM350 368h3v1h-3zM348 369h2v1h-2zM342 370h3v1h-3zM346 370h1v1h-1zM348 370h1v1h-1zM351 370h2v1h-2zM345 371h1v1h-1zM342 372h1v1h-1zM344 372h3v1h-3zM348 372h5v1h-5zM344 373h1v1h-1zM346 373h1v1h-1zM348 373h1v1h-1zM342 375h11v1h-11zM342 377h3v1h-3zM346 377h1v1h-1zM348 377h3v1h-3zM352 377h1v1h-1zM342 380h6v1h-6zM349 380h4v1h-4zM342 384h8v1h-8zM351 384h2v1h-2zM342 390h3v1h-3zM346 390h7v1h-7zM345 289h1v1h-1zM344 291h1v1h-1zM395 291h1v1h-1zM402 300h1v1h-1zM405 302h1v1h-1zM405 304h1v1h-1zM398 305h1v1h-1zM406 305h1v1h-1zM398 306h1v1h-1zM395 307h1v1h-1zM400 307h1v1h-1zM397 310h1v1h-1zM399 312h1v1h-1zM401 313h1v1h-1zM399 314h1v1h-1zM401 314h1v1h-1zM402 315h1v1h-1zM397 316h1v1h-1zM400 316h1v1h-1zM399 317h2v1h-2zM395 318h1v1h-1zM402 318h1v1h-1zM401 319h1v1h-1zM403 319h2v1h-2zM397 320h1v1h-1zM404 321h2v1h-2zM400 322h1v1h-1zM402 322h1v1h-1zM406 322h1v1h-1zM402 323h2v1h-2zM405 323h1v1h-1zM397 325h1v1h-1zM406 325h1v1h-1zM398 326h1v1h-1zM400 326h1v1h-1zM404 326h3v1h-3zM396 327h9v1h-9zM406 327h1v1h-1zM396 328h4v1h-4zM401 328h4v1h-4zM396 329h1v1h-1zM398 329h1v1h-1zM400 329h2v1h-2zM395 330h3v1h-3zM400 330h4v1h-4zM395 331h1v1h-1zM398 331h1v1h-1zM400 331h4v1h-4zM396 332h2v1h-2zM399 332h1v1h-1zM401 332h3v1h-3zM398 333h1v1h-1zM400 333h3v1h-3zM406 333h1v1h-1zM398 334h1v1h-1zM403 334h1v1h-1zM405 334h1v1h-1zM396 335h3v1h-3zM404 335h1v1h-1zM397 336h1v1h-1zM402 336h3v1h-3zM395 337h1v1h-1zM398 337h2v1h-2zM404 337h2v1h-2zM396 338h1v1h-1zM398 338h1v1h-1zM403 338h2v1h-2zM395 339h1v1h-1zM397 339h5v1h-5zM403 339h2v1h-2zM395 340h8v1h-8zM404 340h2v1h-2zM398 341h1v1h-1zM400 341h6v1h-6zM396 342h2v1h-2zM399 342h5v1h-5zM405 342h2v1h-2zM395 343h5v1h-5zM401 343h1v1h-1zM403 343h1v1h-1zM405 343h2v1h-2zM395 344h5v1h-5zM401 344h4v1h-4zM406 344h1v1h-1zM395 345h6v1h-6zM402 345h5v1h-5zM396 346h1v1h-1zM399 346h3v1h-3zM404 346h3v1h-3zM395 347h1v1h-1zM397 347h5v1h-5zM403 347h4v1h-4zM395 348h1v1h-1zM397 348h3v1h-3zM402 348h5v1h-5zM395 349h1v1h-1zM397 349h4v1h-4zM403 349h4v1h-4zM395 350h6v1h-6zM402 350h5v1h-5zM395 351h4v1h-4zM400 351h2v1h-2zM403 351h2v1h-2zM406 351h1v1h-1zM395 352h1v1h-1zM397 352h2v1h-2zM400 352h7v1h-7zM396 353h7v1h-7zM404 353h2v1h-2zM395 354h7v1h-7zM403 354h2v1h-2zM406 354h1v1h-1zM395 355h2v1h-2zM398 355h9v1h-9zM395 356h10v1h-10zM406 356h1v1h-1zM395 357h1v1h-1zM397 357h10v1h-10zM395 358h12v1h-12zM395 359h4v1h-4zM400 359h2v1h-2zM404 359h3v1h-3zM395 360h9v1h-9zM405 360h2v1h-2zM395 361h12v1h-12zM395 362h3v1h-3zM400 362h7v1h-7zM398 363h1v1h-1zM397 364h5v1h-5zM403 364h1v1h-1zM405 364h2v1h-2zM397 365h1v1h-1zM403 365h1v1h-1zM396 366h3v1h-3zM404 366h1v1h-1zM395 367h3v1h-3zM399 367h8v1h-8zM395 368h1v1h-1zM397 368h1v1h-1zM399 368h1v1h-1zM405 368h1v1h-1zM405 369h1v1h-1zM395 370h1v1h-1zM398 370h2v1h-2zM402 370h5v1h-5zM404 371h1v1h-1zM406 371h1v1h-1zM395 372h12v1h-12zM402 373h1v1h-1zM404 373h1v1h-1zM395 375h4v1h-4zM401 375h1v1h-1zM403 375h4v1h-4zM395 377h7v1h-7zM404 377h3v1h-3zM395 380h12v1h-12zM396 384h11v1h-11zM395 390h12v1h-12zM397 290h1v1h-1zM400 289h1v1h-1zM459 312h1v1h-1zM452 316h1v1h-1zM454 322h1v1h-1zM450 329h1v1h-1zM452 329h1v1h-1zM457 329h1v1h-1zM449 330h1v1h-1zM459 330h1v1h-1zM457 331h1v1h-1zM449 332h1v1h-1zM453 338h1v1h-1zM452 339h1v1h-1zM454 340h1v1h-1zM449 342h1v1h-1zM454 343h1v1h-1zM456 343h1v1h-1zM458 344h2v1h-2zM452 345h1v1h-1zM454 345h1v1h-1zM458 345h1v1h-1zM451 346h1v1h-1zM454 346h2v1h-2zM457 346h3v1h-3zM449 347h2v1h-2zM453 347h2v1h-2zM456 347h3v1h-3zM449 348h1v1h-1zM451 348h1v1h-1zM455 348h3v1h-3zM459 348h1v1h-1zM454 349h1v1h-1zM450 350h1v1h-1zM452 350h1v1h-1zM454 350h1v1h-1zM458 350h1v1h-1zM449 351h4v1h-4zM454 351h1v1h-1zM449 352h5v1h-5zM457 352h3v1h-3zM449 353h1v1h-1zM452 353h2v1h-2zM455 353h2v1h-2zM458 353h2v1h-2zM450 354h2v1h-2zM453 354h3v1h-3zM458 354h1v1h-1zM449 355h11v1h-11zM449 356h1v1h-1zM451 356h2v1h-2zM454 356h2v1h-2zM459 356h1v1h-1zM449 357h2v1h-2zM453 357h2v1h-2zM457 357h1v1h-1zM459 357h1v1h-1zM449 358h11v1h-11zM453 359h3v1h-3zM457 359h3v1h-3zM449 360h9v1h-9zM459 360h1v1h-1zM449 361h1v1h-1zM451 361h9v1h-9zM449 362h11v1h-11zM449 363h1v1h-1zM454 363h2v1h-2zM449 364h1v1h-1zM452 364h2v1h-2zM457 364h3v1h-3zM459 365h1v1h-1zM450 366h1v1h-1zM450 367h3v1h-3zM454 367h1v1h-1zM456 367h4v1h-4zM452 368h1v1h-1zM454 368h1v1h-1zM457 369h1v1h-1zM449 370h4v1h-4zM454 370h3v1h-3zM459 370h1v1h-1zM450 371h1v1h-1zM456 371h1v1h-1zM449 372h2v1h-2zM452 372h3v1h-3zM457 372h3v1h-3zM454 373h1v1h-1zM458 373h1v1h-1zM449 375h11v1h-11zM450 377h2v1h-2zM453 377h1v1h-1zM455 377h1v1h-1zM458 377h2v1h-2zM449 380h6v1h-6zM456 380h3v1h-3zM449 384h11v1h-11zM449 390h11v1h-11zM454 314h1v1h-1zM452 312h1v1h-1zM508 320h1v1h-1zM502 329h1v1h-1zM511 332h1v1h-1zM505 336h1v1h-1zM512 336h1v1h-1zM507 338h1v1h-1zM503 343h1v1h-1zM504 344h1v1h-1zM511 344h1v1h-1zM503 345h1v1h-1zM507 345h1v1h-1zM509 345h1v1h-1zM508 346h2v1h-2zM512 347h1v1h-1zM502 349h1v1h-1zM504 349h1v1h-1zM510 349h1v1h-1zM512 349h1v1h-1zM502 350h1v1h-1zM504 350h1v1h-1zM506 350h2v1h-2zM512 350h1v1h-1zM504 351h1v1h-1zM507 351h2v1h-2zM503 352h1v1h-1zM505 352h1v1h-1zM507 352h1v1h-1zM509 352h2v1h-2zM512 352h1v1h-1zM503 353h2v1h-2zM509 353h1v1h-1zM502 354h3v1h-3zM506 354h1v1h-1zM508 354h1v1h-1zM510 354h1v1h-1zM502 355h4v1h-4zM508 355h4v1h-4zM510 356h2v1h-2zM502 357h2v1h-2zM511 357h2v1h-2zM502 358h1v1h-1zM504 358h1v1h-1zM506 358h1v1h-1zM508 358h1v1h-1zM511 358h1v1h-1zM502 359h1v1h-1zM506 359h2v1h-2zM509 359h2v1h-2zM502 360h2v1h-2zM505 360h2v1h-2zM508 360h2v1h-2zM512 360h1v1h-1zM508 361h1v1h-1zM502 362h2v1h-2zM506 362h7v1h-7zM505 363h1v1h-1zM503 364h5v1h-5zM510 364h2v1h-2zM502 365h1v1h-1zM512 365h1v1h-1zM504 366h1v1h-1zM508 366h1v1h-1zM503 367h2v1h-2zM506 367h1v1h-1zM509 367h1v1h-1zM511 367h2v1h-2zM502 368h1v1h-1zM504 368h1v1h-1zM506 368h1v1h-1zM510 368h1v1h-1zM503 369h1v1h-1zM508 369h1v1h-1zM511 369h1v1h-1zM502 370h3v1h-3zM506 370h4v1h-4zM511 370h2v1h-2zM509 371h1v1h-1zM512 371h1v1h-1zM502 372h1v1h-1zM504 372h1v1h-1zM507 372h1v1h-1zM509 372h4v1h-4zM506 373h1v1h-1zM510 373h2v1h-2zM502 375h4v1h-4zM507 375h6v1h-6zM502 377h4v1h-4zM508 377h1v1h-1zM511 377h2v1h-2zM503 380h10v1h-10zM502 384h11v1h-11zM502 390h11v1h-11zM504 322h1v1h-1zM511 321h1v1h-1zM556 320h1v1h-1zM566 322h1v1h-1zM563 323h1v1h-1zM564 326h1v1h-1zM565 327h1v1h-1zM560 328h1v1h-1zM563 332h1v1h-1zM564 336h1v1h-1zM561 341h1v1h-1zM557 343h1v1h-1zM559 343h1v1h-1zM563 343h1v1h-1zM566 343h1v1h-1zM559 344h1v1h-1zM563 344h1v1h-1zM566 344h1v1h-1zM560 345h1v1h-1zM562 345h1v1h-1zM565 345h2v1h-2zM557 346h1v1h-1zM561 346h1v1h-1zM565 346h1v1h-1zM556 348h1v1h-1zM560 348h1v1h-1zM563 349h2v1h-2zM566 349h1v1h-1zM562 350h1v1h-1zM557 351h1v1h-1zM560 351h2v1h-2zM565 351h1v1h-1zM557 352h4v1h-4zM557 353h4v1h-4zM561 354h1v1h-1zM558 355h7v1h-7zM566 355h1v1h-1zM556 356h1v1h-1zM560 356h1v1h-1zM565 356h1v1h-1zM557 357h1v1h-1zM562 357h1v1h-1zM557 358h2v1h-2zM560 358h2v1h-2zM563 358h1v1h-1zM557 359h1v1h-1zM559 359h1v1h-1zM561 359h1v1h-1zM564 359h1v1h-1zM558 360h1v1h-1zM560 360h7v1h-7zM556 361h8v1h-8zM565 361h1v1h-1zM556 362h6v1h-6zM563 362h4v1h-4zM556 363h1v1h-1zM556 364h2v1h-2zM560 364h1v1h-1zM564 364h1v1h-1zM566 364h1v1h-1zM558 365h1v1h-1zM560 365h1v1h-1zM562 366h1v1h-1zM566 366h1v1h-1zM557 367h2v1h-2zM562 367h4v1h-4zM557 368h3v1h-3zM562 368h1v1h-1zM565 368h2v1h-2zM561 369h1v1h-1zM556 370h1v1h-1zM558 370h2v1h-2zM564 370h3v1h-3zM565 371h1v1h-1zM556 372h5v1h-5zM562 372h4v1h-4zM557 373h1v1h-1zM561 373h1v1h-1zM564 373h1v1h-1zM556 375h9v1h-9zM566 375h1v1h-1zM556 377h4v1h-4zM561 377h1v1h-1zM564 377h1v1h-1zM556 380h3v1h-3zM560 380h3v1h-3zM565 380h2v1h-2zM556 384h11v1h-11zM556 390h8v1h-8zM565 390h2v1h-2zM558 321h1v1h-1zM557 320h1v1h-1zM613 329h1v1h-1zM617 329h1v1h-1zM613 330h2v1h-2zM615 332h1v1h-1zM615 335h1v1h-1zM609 338h1v1h-1zM614 338h1v1h-1zM610 342h2v1h-2zM617 342h2v1h-2zM609 344h2v1h-2zM612 347h1v1h-1zM617 347h1v1h-1zM612 348h1v1h-1zM617 348h3v1h-3zM609 349h1v1h-1zM609 351h1v1h-1zM611 351h1v1h-1zM610 352h4v1h-4zM618 352h2v1h-2zM609 353h1v1h-1zM609 354h1v1h-1zM615 354h1v1h-1zM612 355h2v1h-2zM615 355h1v1h-1zM618 355h2v1h-2zM609 356h3v1h-3zM613 356h1v1h-1zM618 356h1v1h-1zM612 357h1v1h-1zM614 357h2v1h-2zM617 357h2v1h-2zM609 358h2v1h-2zM612 358h1v1h-1zM614 358h2v1h-2zM617 358h1v1h-1zM619 358h1v1h-1zM609 359h2v1h-2zM612 359h4v1h-4zM609 360h1v1h-1zM612 360h1v1h-1zM614 360h3v1h-3zM619 360h1v1h-1zM609 361h1v1h-1zM612 361h2v1h-2zM616 361h1v1h-1zM609 362h1v1h-1zM611 362h5v1h-5zM617 362h3v1h-3zM612 363h1v1h-1zM613 364h1v1h-1zM615 364h1v1h-1zM617 364h3v1h-3zM609 365h2v1h-2zM614 365h3v1h-3zM618 365h1v1h-1zM617 366h1v1h-1zM609 367h4v1h-4zM616 367h3v1h-3zM609 368h1v1h-1zM616 368h1v1h-1zM609 369h1v1h-1zM612 369h1v1h-1zM610 370h2v1h-2zM613 370h1v1h-1zM617 370h3v1h-3zM609 371h1v1h-1zM612 371h1v1h-1zM614 371h1v1h-1zM609 372h1v1h-1zM612 372h5v1h-5zM618 372h2v1h-2zM612 373h1v1h-1zM615 373h1v1h-1zM610 375h2v1h-2zM613 375h4v1h-4zM618 375h2v1h-2zM610 377h2v1h-2zM613 377h1v1h-1zM615 377h5v1h-5zM609 380h7v1h-7zM617 380h2v1h-2zM609 384h11v1h-11zM609 390h11v1h-11zM612 326h1v1h-1zM609 328h1v1h-1zM664 338h1v1h-1zM664 340h1v1h-1zM666 340h1v1h-1zM668 341h1v1h-1zM670 341h1v1h-1zM667 342h1v1h-1zM672 343h1v1h-1zM664 344h1v1h-1zM669 344h1v1h-1zM662 345h1v1h-1zM665 345h1v1h-1zM673 346h1v1h-1zM667 347h1v1h-1zM664 348h1v1h-1zM669 349h1v1h-1zM672 349h1v1h-1zM666 350h1v1h-1zM667 351h1v1h-1zM670 351h1v1h-1zM672 351h1v1h-1zM662 352h3v1h-3zM667 352h1v1h-1zM670 352h3v1h-3zM667 353h1v1h-1zM666 354h2v1h-2zM662 355h1v1h-1zM665 355h3v1h-3zM669 355h1v1h-1zM672 355h2v1h-2zM664 356h1v1h-1zM673 356h1v1h-1zM662 357h2v1h-2zM667 357h1v1h-1zM671 357h1v1h-1zM673 357h1v1h-1zM662 358h2v1h-2zM665 358h3v1h-3zM669 358h1v1h-1zM672 358h2v1h-2zM666 359h2v1h-2zM669 359h1v1h-1zM672 359h2v1h-2zM662 360h6v1h-6zM670 360h1v1h-1zM672 360h2v1h-2zM668 361h3v1h-3zM673 361h1v1h-1zM662 362h4v1h-4zM667 362h7v1h-7zM663 363h1v1h-1zM662 364h2v1h-2zM667 364h7v1h-7zM663 365h1v1h-1zM666 365h1v1h-1zM663 367h3v1h-3zM667 367h1v1h-1zM669 367h1v1h-1zM671 367h1v1h-1zM673 367h1v1h-1zM664 368h1v1h-1zM666 368h1v1h-1zM668 368h1v1h-1zM671 368h1v1h-1zM663 370h1v1h-1zM667 370h2v1h-2zM671 370h3v1h-3zM664 372h2v1h-2zM667 372h5v1h-5zM667 373h1v1h-1zM662 375h7v1h-7zM670 375h4v1h-4zM662 377h9v1h-9zM662 380h1v1h-1zM664 380h1v1h-1zM666 380h2v1h-2zM670 380h3v1h-3zM662 384h8v1h-8zM671 384h3v1h-3zM662 390h12v1h-12zM666 336h1v1h-1zM668 337h1v1h-1z" fill="#ef2f8a" fill-opacity="0.92"/>
<path d="M74 418.5 h12M128 418.5 h11M181 418.5 h12M235 418.5 h11M288 418.5 h12M342 418.5 h11M395 418.5 h12M449 418.5 h11M502 418.5 h11M556 418.5 h11M609 418.5 h11M662 418.5 h12" stroke="#ff78b4" stroke-width="1.4" fill="none"/>
<polyline points="69.4,415.4 122.86,415.4 176.32,415 229.78,414.7 283.24,413.4 336.7,410.3 390.16,386 443.62,408.6 497.08,411.7 550.54,413.7 604,415.2 657.46,414.8" fill="none" stroke="#111" stroke-width="1"/>
<circle cx="69.4" cy="415.4" r="1.5" fill="#000"/>
<circle cx="122.86" cy="415.4" r="1.5" fill="#000"/>
<circle cx="176.32" cy="415" r="1.5" fill="#000"/>
<circle cx="229.78" cy="414.7" r="1.5" fill="#000"/>
<circle cx="283.24" cy="413.4" r="1.5" fill="#000"/>
<circle cx="336.7" cy="410.3" r="1.5" fill="#000"/>
<circle cx="390.16" cy="386" r="1.5" fill="#000"/>
<circle cx="443.62" cy="408.6" r="1.5" fill="#000"/>
<circle cx="497.08" cy="411.7" r="1.5" fill="#000"/>
<circle cx="550.54" cy="413.7" r="1.5" fill="#000"/>
<circle cx="604" cy="415.2" r="1.5" fill="#000"/>
<circle cx="657.46" cy="414.8" r="1.5" fill="#000"/>
<line x1="42.8" y1="281.6" x2="42.8" y2="406.5" stroke="#777" stroke-width="1"/>
<line x1="42.8" y1="411.5" x2="42.8" y2="426.3" stroke="#777" stroke-width="1"/>
<line x1="41.2" y1="408.6" x2="44.6" y2="405.4" stroke="#666" stroke-width="0.9"/>
<line x1="41.5" y1="412.2" x2="44.9" y2="409" stroke="#666" stroke-width="0.9"/>
<line x1="42.5" y1="426.3" x2="672.8" y2="426.3" stroke="#555" stroke-width="1"/>
</svg></body></html>
